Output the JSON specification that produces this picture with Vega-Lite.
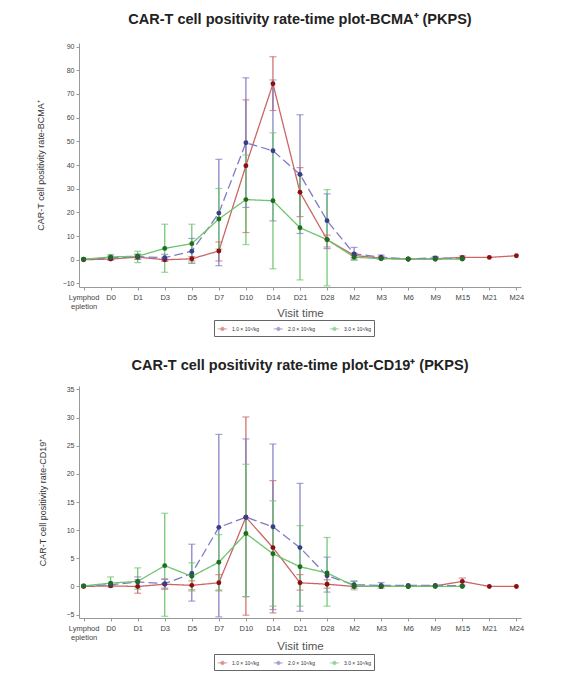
{
  "$schema": "https://vega.github.io/schema/vega-lite/v6.json",
  "background": "white",
  "padding": {"left": 36, "top": 12, "right": 5, "bottom": 5},
  "spacing": 20,
  "resolve": {"legend": {"color": "independent", "fill": "independent", "strokeDash": "independent"}, "scale": {"y": "independent"}},
  "config": {
    "font": "Liberation Sans",
    "view": {"stroke": null},
    "axis": {"grid": false, "domainColor": "#999", "tickColor": "#999", "tickSize": 3, "labelColor": "#444", "labelFont": "Liberation Sans", "titleFont": "Liberation Sans", "titleFontWeight": "normal", "labelOverlap": false, "labelFlush": false},
    "legend": {"labelFont": "Liberation Sans"}
  },
  "datasets": {
    "bcma": [
      {"visit": "Lymphodepletion", "dose": "1.0 × 10⁶/kg", "mean": 0.0, "lo": null, "hi": null},
      {"visit": "D0", "dose": "1.0 × 10⁶/kg", "mean": 0.3, "lo": -0.2, "hi": 0.8},
      {"visit": "D1", "dose": "1.0 × 10⁶/kg", "mean": 1.1, "lo": 0.2, "hi": 2.2},
      {"visit": "D3", "dose": "1.0 × 10⁶/kg", "mean": 0.0, "lo": -0.6, "hi": 0.6},
      {"visit": "D5", "dose": "1.0 × 10⁶/kg", "mean": 0.4, "lo": -0.5, "hi": 1.3},
      {"visit": "D7", "dose": "1.0 × 10⁶/kg", "mean": 3.7, "lo": -0.5, "hi": 7.5},
      {"visit": "D10", "dose": "1.0 × 10⁶/kg", "mean": 39.7, "lo": 11.5, "hi": 67.5},
      {"visit": "D14", "dose": "1.0 × 10⁶/kg", "mean": 74.3, "lo": 63.0, "hi": 85.7},
      {"visit": "D21", "dose": "1.0 × 10⁶/kg", "mean": 28.5, "lo": 18.2, "hi": 38.9},
      {"visit": "D28", "dose": "1.0 × 10⁶/kg", "mean": 8.5, "lo": 5.4, "hi": 10.4},
      {"visit": "M2", "dose": "1.0 × 10⁶/kg", "mean": 1.8, "lo": 0.8, "hi": 2.8},
      {"visit": "M3", "dose": "1.0 × 10⁶/kg", "mean": 0.7, "lo": 0.2, "hi": 1.2},
      {"visit": "M6", "dose": "1.0 × 10⁶/kg", "mean": 0.3, "lo": null, "hi": null},
      {"visit": "M9", "dose": "1.0 × 10⁶/kg", "mean": 0.4, "lo": null, "hi": null},
      {"visit": "M15", "dose": "1.0 × 10⁶/kg", "mean": 1.0, "lo": 0.4, "hi": 1.6},
      {"visit": "M21", "dose": "1.0 × 10⁶/kg", "mean": 1.0, "lo": null, "hi": null},
      {"visit": "M24", "dose": "1.0 × 10⁶/kg", "mean": 1.7, "lo": null, "hi": null},
      {"visit": "Lymphodepletion", "dose": "2.0 × 10⁶/kg", "mean": 0.2, "lo": null, "hi": null},
      {"visit": "D0", "dose": "2.0 × 10⁶/kg", "mean": 0.8, "lo": 0.1, "hi": 1.5},
      {"visit": "D1", "dose": "2.0 × 10⁶/kg", "mean": 1.3, "lo": 0.2, "hi": 2.4},
      {"visit": "D3", "dose": "2.0 × 10⁶/kg", "mean": 0.9, "lo": -0.5, "hi": 2.3},
      {"visit": "D5", "dose": "2.0 × 10⁶/kg", "mean": 3.6, "lo": -1.5, "hi": 9.0},
      {"visit": "D7", "dose": "2.0 × 10⁶/kg", "mean": 19.7, "lo": -2.5, "hi": 42.4},
      {"visit": "D10", "dose": "2.0 × 10⁶/kg", "mean": 49.4, "lo": 22.1, "hi": 76.8},
      {"visit": "D14", "dose": "2.0 × 10⁶/kg", "mean": 46.0, "lo": 16.4, "hi": 75.9},
      {"visit": "D21", "dose": "2.0 × 10⁶/kg", "mean": 36.0, "lo": 11.1, "hi": 61.2},
      {"visit": "D28", "dose": "2.0 × 10⁶/kg", "mean": 16.5, "lo": 4.7, "hi": 27.8},
      {"visit": "M2", "dose": "2.0 × 10⁶/kg", "mean": 2.5, "lo": 0.0, "hi": 5.2},
      {"visit": "M3", "dose": "2.0 × 10⁶/kg", "mean": 1.1, "lo": 0.2, "hi": 2.0},
      {"visit": "M6", "dose": "2.0 × 10⁶/kg", "mean": 0.3, "lo": null, "hi": null},
      {"visit": "M9", "dose": "2.0 × 10⁶/kg", "mean": 0.8, "lo": 0.2, "hi": 1.4},
      {"visit": "M15", "dose": "2.0 × 10⁶/kg", "mean": 0.4, "lo": null, "hi": null},
      {"visit": "Lymphodepletion", "dose": "3.0 × 10⁶/kg", "mean": 0.2, "lo": null, "hi": null},
      {"visit": "D0", "dose": "3.0 × 10⁶/kg", "mean": 1.2, "lo": 0.2, "hi": 2.2},
      {"visit": "D1", "dose": "3.0 × 10⁶/kg", "mean": 1.5, "lo": -1.2, "hi": 3.6},
      {"visit": "D3", "dose": "3.0 × 10⁶/kg", "mean": 4.8, "lo": -5.3, "hi": 15.0},
      {"visit": "D5", "dose": "3.0 × 10⁶/kg", "mean": 6.8, "lo": -1.5, "hi": 15.0},
      {"visit": "D7", "dose": "3.0 × 10⁶/kg", "mean": 17.2, "lo": 4.5, "hi": 30.1},
      {"visit": "D10", "dose": "3.0 × 10⁶/kg", "mean": 25.4, "lo": 6.4, "hi": 44.2},
      {"visit": "D14", "dose": "3.0 × 10⁶/kg", "mean": 24.9, "lo": -3.8, "hi": 53.6},
      {"visit": "D21", "dose": "3.0 × 10⁶/kg", "mean": 13.5, "lo": -8.5, "hi": 35.8},
      {"visit": "D28", "dose": "3.0 × 10⁶/kg", "mean": 8.5, "lo": -11.0, "hi": 29.6},
      {"visit": "M2", "dose": "3.0 × 10⁶/kg", "mean": 1.1, "lo": -0.2, "hi": 2.4},
      {"visit": "M3", "dose": "3.0 × 10⁶/kg", "mean": 0.4, "lo": null, "hi": null},
      {"visit": "M6", "dose": "3.0 × 10⁶/kg", "mean": 0.2, "lo": null, "hi": null},
      {"visit": "M9", "dose": "3.0 × 10⁶/kg", "mean": 0.2, "lo": null, "hi": null},
      {"visit": "M15", "dose": "3.0 × 10⁶/kg", "mean": 0.3, "lo": null, "hi": null}
    ],
    "cd19": [
      {"visit": "Lymphodepletion", "dose": "1.0 × 10⁶/kg", "mean": 0.0, "lo": null, "hi": null},
      {"visit": "D0", "dose": "1.0 × 10⁶/kg", "mean": 0.1, "lo": null, "hi": null},
      {"visit": "D1", "dose": "1.0 × 10⁶/kg", "mean": 0.0, "lo": -1.2, "hi": 1.2},
      {"visit": "D3", "dose": "1.0 × 10⁶/kg", "mean": 0.4, "lo": -0.5, "hi": 1.3},
      {"visit": "D5", "dose": "1.0 × 10⁶/kg", "mean": 0.2, "lo": -0.6, "hi": 1.0},
      {"visit": "D7", "dose": "1.0 × 10⁶/kg", "mean": 0.65, "lo": -0.65, "hi": 2.1},
      {"visit": "D10", "dose": "1.0 × 10⁶/kg", "mean": 12.3, "lo": -5.1, "hi": 30.1},
      {"visit": "D14", "dose": "1.0 × 10⁶/kg", "mean": 6.9, "lo": -4.7, "hi": 18.8},
      {"visit": "D21", "dose": "1.0 × 10⁶/kg", "mean": 0.65, "lo": -0.65, "hi": 2.1},
      {"visit": "D28", "dose": "1.0 × 10⁶/kg", "mean": 0.4, "lo": -0.3, "hi": 1.2},
      {"visit": "M2", "dose": "1.0 × 10⁶/kg", "mean": 0.0, "lo": null, "hi": null},
      {"visit": "M3", "dose": "1.0 × 10⁶/kg", "mean": 0.0, "lo": null, "hi": null},
      {"visit": "M6", "dose": "1.0 × 10⁶/kg", "mean": 0.0, "lo": null, "hi": null},
      {"visit": "M9", "dose": "1.0 × 10⁶/kg", "mean": 0.1, "lo": null, "hi": null},
      {"visit": "M15", "dose": "1.0 × 10⁶/kg", "mean": 0.9, "lo": 0.2, "hi": 1.5},
      {"visit": "M21", "dose": "1.0 × 10⁶/kg", "mean": 0.0, "lo": null, "hi": null},
      {"visit": "M24", "dose": "1.0 × 10⁶/kg", "mean": 0.0, "lo": null, "hi": null},
      {"visit": "Lymphodepletion", "dose": "2.0 × 10⁶/kg", "mean": 0.1, "lo": null, "hi": null},
      {"visit": "D0", "dose": "2.0 × 10⁶/kg", "mean": 0.3, "lo": null, "hi": null},
      {"visit": "D1", "dose": "2.0 × 10⁶/kg", "mean": 0.8, "lo": -0.1, "hi": 1.7},
      {"visit": "D3", "dose": "2.0 × 10⁶/kg", "mean": 0.5, "lo": -0.3, "hi": 1.3},
      {"visit": "D5", "dose": "2.0 × 10⁶/kg", "mean": 2.3, "lo": -2.6, "hi": 7.5},
      {"visit": "D7", "dose": "2.0 × 10⁶/kg", "mean": 10.5, "lo": -5.4, "hi": 27.0},
      {"visit": "D10", "dose": "2.0 × 10⁶/kg", "mean": 12.3, "lo": -1.8, "hi": 26.2},
      {"visit": "D14", "dose": "2.0 × 10⁶/kg", "mean": 10.6, "lo": -4.1, "hi": 25.3},
      {"visit": "D21", "dose": "2.0 × 10⁶/kg", "mean": 6.9, "lo": -4.4, "hi": 18.3},
      {"visit": "D28", "dose": "2.0 × 10⁶/kg", "mean": 1.9, "lo": -1.0, "hi": 5.2},
      {"visit": "M2", "dose": "2.0 × 10⁶/kg", "mean": 0.3, "lo": -0.3, "hi": 0.9},
      {"visit": "M3", "dose": "2.0 × 10⁶/kg", "mean": 0.2, "lo": -0.3, "hi": 0.7},
      {"visit": "M6", "dose": "2.0 × 10⁶/kg", "mean": 0.2, "lo": null, "hi": null},
      {"visit": "M9", "dose": "2.0 × 10⁶/kg", "mean": 0.2, "lo": null, "hi": null},
      {"visit": "M15", "dose": "2.0 × 10⁶/kg", "mean": 0.1, "lo": null, "hi": null},
      {"visit": "Lymphodepletion", "dose": "3.0 × 10⁶/kg", "mean": 0.1, "lo": null, "hi": null},
      {"visit": "D0", "dose": "3.0 × 10⁶/kg", "mean": 0.6, "lo": -0.1, "hi": 1.7},
      {"visit": "D1", "dose": "3.0 × 10⁶/kg", "mean": 0.9, "lo": -0.5, "hi": 3.3},
      {"visit": "D3", "dose": "3.0 × 10⁶/kg", "mean": 3.7, "lo": -5.3, "hi": 13.0},
      {"visit": "D5", "dose": "3.0 × 10⁶/kg", "mean": 1.8, "lo": -0.8, "hi": 4.2},
      {"visit": "D7", "dose": "3.0 × 10⁶/kg", "mean": 4.3, "lo": -0.8, "hi": 9.2},
      {"visit": "D10", "dose": "3.0 × 10⁶/kg", "mean": 9.4, "lo": -1.8, "hi": 21.7},
      {"visit": "D14", "dose": "3.0 × 10⁶/kg", "mean": 5.8, "lo": -3.5, "hi": 15.2},
      {"visit": "D21", "dose": "3.0 × 10⁶/kg", "mean": 3.5, "lo": -3.5, "hi": 10.8},
      {"visit": "D28", "dose": "3.0 × 10⁶/kg", "mean": 2.4, "lo": -3.5, "hi": 8.7},
      {"visit": "M2", "dose": "3.0 × 10⁶/kg", "mean": 0.1, "lo": -0.6, "hi": 1.0},
      {"visit": "M3", "dose": "3.0 × 10⁶/kg", "mean": 0.0, "lo": null, "hi": null},
      {"visit": "M6", "dose": "3.0 × 10⁶/kg", "mean": 0.0, "lo": null, "hi": null},
      {"visit": "M9", "dose": "3.0 × 10⁶/kg", "mean": 0.0, "lo": null, "hi": null},
      {"visit": "M15", "dose": "3.0 × 10⁶/kg", "mean": 0.0, "lo": null, "hi": null}
    ]
  },
  "vconcat": [
    {
      "title": {"text": "CAR-T cell positivity rate-time plot-BCMA⁺ (PKPS)", "fontSize": 14.5, "fontWeight": "bold", "color": "#222", "anchor": "middle", "offset": 15},
      "width": 442,
      "height": 244,
      "data": {"name": "bcma"},
      "encoding": {
        "x": {"field": "visit", "type": "ordinal",
          "sort": ["Lymphodepletion", "D0", "D1", "D3", "D5", "D7", "D10", "D14", "D21", "D28", "M2", "M3", "M6", "M9", "M15", "M21", "M24"],
          "scale": {"type": "point", "padding": 0.17},
          "axis": {"title": "Visit time", "titleFontSize": 11.5, "titleColor": "#555", "titlePadding": -3, "labelAngle": 0, "labelFontSize": 7.5, "labelPadding": 3, "labelColor": "#444", "labelOverlap": false,
            "labelExpr": "datum.value == 'Lymphodepletion' ? ['Lymphod', 'epletion'] : datum.value"}},
        "color": {"field": "dose", "type": "nominal",
          "scale": {"domain": ["1.0 × 10⁶/kg", "2.0 × 10⁶/kg", "3.0 × 10⁶/kg"], "range": ["#cc6666", "#7c7cc4", "#6cc46c"]},
          "legend": {"orient": "none", "legendX": 135, "legendY": 277, "direction": "horizontal", "title": null, "strokeColor": "#666", "padding": 3, "labelFontSize": 5, "labelColor": "#333", "symbolType": "M-1,0L1,0M0.35,0A0.35,0.35,0,1,1,-0.35,0A0.35,0.35,0,1,1,0.35,0", "symbolSize": 90, "symbolStrokeWidth": 1, "columnPadding": 12}}
      },
      "layer": [
        {"mark": {"type": "rule", "strokeWidth": 1.2},
          "encoding": {"y": {"field": "lo", "type": "quantitative", "scale": {"domain": [-11.5, 91.5], "nice": false, "zero": false},
            "axis": {"title": "CAR-T cell positivity rate-BCMA⁺", "titleFontSize": 9, "titleColor": "#333", "titlePadding": 17, "labelFontSize": 7, "labelOverlap": false, "labelFlush": false, "tickCount": 30, "values": [-10, 0, 10, 20, 30, 40, 50, 60, 70, 80, 90]}},
            "y2": {"field": "hi"}}},
        {"mark": {"type": "tick", "thickness": 1.2, "size": 7}, "encoding": {"y": {"field": "lo", "type": "quantitative"}}},
        {"mark": {"type": "tick", "thickness": 1.2, "size": 7}, "encoding": {"y": {"field": "hi", "type": "quantitative"}}},
        {"mark": {"type": "line", "strokeWidth": 1.3},
          "encoding": {"y": {"field": "mean", "type": "quantitative"},
            "strokeDash": {"field": "dose", "type": "nominal", "scale": {"domain": ["1.0 × 10⁶/kg", "2.0 × 10⁶/kg", "3.0 × 10⁶/kg"], "range": [[1, 0], [9, 4], [1, 0]]}, "legend": null}}},
        {"mark": {"type": "point", "filled": true, "size": 24, "opacity": 1},
          "encoding": {"y": {"field": "mean", "type": "quantitative"},
            "fill": {"field": "dose", "type": "nominal", "scale": {"domain": ["1.0 × 10⁶/kg", "2.0 × 10⁶/kg", "3.0 × 10⁶/kg"], "range": ["#8b1010", "#3c3c8c", "#1e6e1e"]}, "legend": null}}}
      ]
    },
    {
      "title": {"text": "CAR-T cell positivity rate-time plot-CD19⁺ (PKPS)", "fontSize": 14.5, "fontWeight": "bold", "color": "#222", "anchor": "middle", "offset": 12},
      "width": 442,
      "height": 232,
      "data": {"name": "cd19"},
      "encoding": {
        "x": {"field": "visit", "type": "ordinal",
          "sort": ["Lymphodepletion", "D0", "D1", "D3", "D5", "D7", "D10", "D14", "D21", "D28", "M2", "M3", "M6", "M9", "M15", "M21", "M24"],
          "scale": {"type": "point", "padding": 0.17},
          "axis": {"title": "Visit time", "titleFontSize": 11.5, "titleColor": "#555", "titlePadding": -1, "labelAngle": 0, "labelFontSize": 7.5, "labelPadding": 3, "labelColor": "#444", "labelOverlap": false,
            "labelExpr": "datum.value == 'Lymphodepletion' ? ['Lymphod', 'epletion'] : datum.value"}},
        "color": {"field": "dose", "type": "nominal",
          "scale": {"domain": ["1.0 × 10⁶/kg", "2.0 × 10⁶/kg", "3.0 × 10⁶/kg"], "range": ["#cc6666", "#7c7cc4", "#6cc46c"]},
          "legend": {"orient": "none", "legendX": 135, "legendY": 268, "direction": "horizontal", "title": null, "strokeColor": "#666", "padding": 3, "labelFontSize": 5, "labelColor": "#333", "symbolType": "M-1,0L1,0M0.35,0A0.35,0.35,0,1,1,-0.35,0A0.35,0.35,0,1,1,0.35,0", "symbolSize": 90, "symbolStrokeWidth": 1, "columnPadding": 12}}
      },
      "layer": [
        {"mark": {"type": "rule", "strokeWidth": 1.2},
          "encoding": {"y": {"field": "lo", "type": "quantitative", "scale": {"domain": [-5.6, 35.6], "nice": false, "zero": false},
            "axis": {"title": "CAR-T cell positivity rate-CD19⁺", "titleFontSize": 9, "titleColor": "#333", "titlePadding": 19, "labelFontSize": 7, "labelOverlap": false, "labelFlush": false, "tickCount": 30, "values": [-5, 0, 5, 10, 15, 20, 25, 30, 35]}},
            "y2": {"field": "hi"}}},
        {"mark": {"type": "tick", "thickness": 1.2, "size": 7}, "encoding": {"y": {"field": "lo", "type": "quantitative"}}},
        {"mark": {"type": "tick", "thickness": 1.2, "size": 7}, "encoding": {"y": {"field": "hi", "type": "quantitative"}}},
        {"mark": {"type": "line", "strokeWidth": 1.3},
          "encoding": {"y": {"field": "mean", "type": "quantitative"},
            "strokeDash": {"field": "dose", "type": "nominal", "scale": {"domain": ["1.0 × 10⁶/kg", "2.0 × 10⁶/kg", "3.0 × 10⁶/kg"], "range": [[1, 0], [9, 4], [1, 0]]}, "legend": null}}},
        {"mark": {"type": "point", "filled": true, "size": 24, "opacity": 1},
          "encoding": {"y": {"field": "mean", "type": "quantitative"},
            "fill": {"field": "dose", "type": "nominal", "scale": {"domain": ["1.0 × 10⁶/kg", "2.0 × 10⁶/kg", "3.0 × 10⁶/kg"], "range": ["#8b1010", "#3c3c8c", "#1e6e1e"]}, "legend": null}}}
      ]
    }
  ]
}
